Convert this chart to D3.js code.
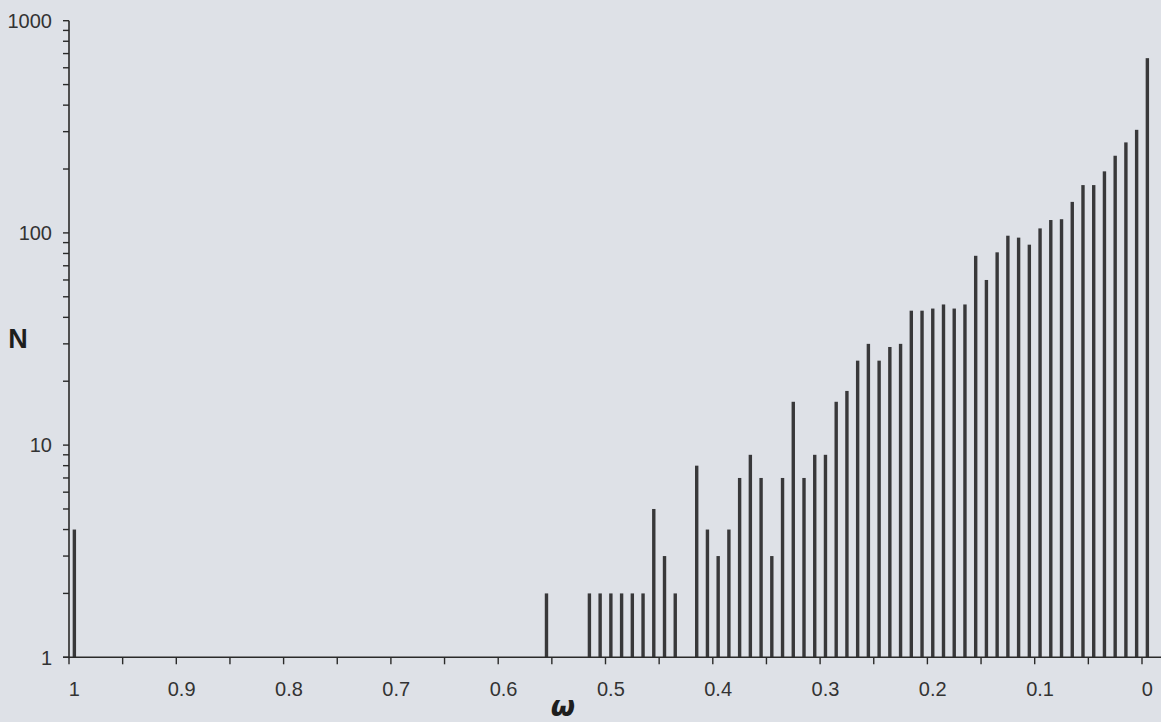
<!DOCTYPE html>
<html>
<head>
<meta charset="utf-8">
<script src="https://cdn.jsdelivr.net/npm/d3@7"></script>
<style>
  html, body { margin: 0; padding: 0; background: #dee1e7; }
  svg { display: block; }
</style>
</head>
<body>
<svg id="chart" width="1161" height="722"></svg>
<script>
// ω bins (reversed axis, 1 → 0) and counts N
const omega = [1.00, 0.56, 0.52, 0.51, 0.50, 0.49, 0.48, 0.47, 0.46, 0.45, 0.44,
  0.42, 0.41, 0.40, 0.39, 0.38, 0.37, 0.36, 0.35, 0.34, 0.33, 0.32, 0.31, 0.30,
  0.29, 0.28, 0.27, 0.26, 0.25, 0.24, 0.23, 0.22, 0.21, 0.20, 0.19, 0.18, 0.17,
  0.16, 0.15, 0.14, 0.13, 0.12, 0.11, 0.10, 0.09, 0.08, 0.07, 0.06, 0.05, 0.04,
  0.03, 0.02, 0.01, 0.00];
const counts = [4, 2, 2, 2, 2, 2, 2, 2, 5, 3, 2,
  8, 4, 3, 4, 7, 9, 7, 3, 7, 16, 7, 9, 9,
  16, 18, 25, 30, 25, 29, 30, 43, 43, 44, 46, 44, 46,
  78, 60, 81, 97, 95, 88, 105, 115, 116, 140, 168, 168, 195,
  231, 267, 306, 666];
const xTickValues = [1, 0.95, 0.9, 0.85, 0.8, 0.75, 0.7, 0.65, 0.6, 0.55, 0.5, 0.45,
  0.4, 0.35, 0.3, 0.25, 0.2, 0.15, 0.1, 0.05, 0];
const xLabelValues = [1, 0.9, 0.8, 0.7, 0.6, 0.5, 0.4, 0.3, 0.2, 0.1, 0];
const yLabelValues = [1, 10, 100, 1000];

const svg = d3.select("#chart");
const x = d3.scaleLinear().domain([1, 0]).range([69, 1142]);
const y = d3.scaleLog().domain([1, 1000]).range([657.3, 20.7]);
const halfBin = 0.005;               // bars & labels sit half a bin to the right of ticks
const xb = v => x(v - halfBin);
const ink = "#2a2a2a";
const font = "'Liberation Sans', Arial, sans-serif";

// bars
svg.append("g").selectAll("rect")
  .data(omega.map((w, i) => ({w, n: counts[i]})))
  .join("rect")
  .attr("x", d => xb(d.w) - 1.7)
  .attr("width", 3.4)
  .attr("y", d => y(d.n))
  .attr("height", d => y(1) - y(d.n))
  .attr("fill", "#38383a");

// y axis
const yMinor = [];
for (let dec = 1; dec < 1000; dec *= 10) for (let m = 1; m < 10; m++) yMinor.push(dec * m);
yMinor.push(1000);
const gy = svg.append("g");
gy.append("line").attr("x1", x(1)).attr("x2", x(1)).attr("y1", y(1000)).attr("y2", y(1) + 1)
  .attr("stroke", ink).attr("stroke-width", 1.6);
gy.selectAll("line.t").data(yMinor).join("line").attr("class", "t")
  .attr("x1", x(1) - 6).attr("x2", x(1)).attr("y1", d => y(d)).attr("y2", d => y(d))
  .attr("stroke", ink).attr("stroke-width", 1.4);
gy.selectAll("text").data(yLabelValues).join("text")
  .attr("x", 52).attr("y", d => y(d)).attr("dy", "0.36em")
  .attr("text-anchor", "end").attr("font-family", font).attr("font-size", 20)
  .attr("fill", "#333").text(d => d);

// x axis
const gx = svg.append("g");
gx.append("line").attr("x1", x(1) - 6).attr("x2", 1161).attr("y1", y(1)).attr("y2", y(1))
  .attr("stroke", ink).attr("stroke-width", 1.6);
gx.selectAll("line.t").data(xTickValues).join("line").attr("class", "t")
  .attr("x1", d => x(d)).attr("x2", d => x(d)).attr("y1", y(1)).attr("y2", y(1) + 7)
  .attr("stroke", ink).attr("stroke-width", 1.4);
gx.selectAll("text").data(xLabelValues).join("text")
  .attr("x", d => xb(d)).attr("y", 696)
  .attr("text-anchor", "middle").attr("font-family", font).attr("font-size", 20)
  .attr("fill", "#333").text(d => d3.format("~g")(d));

// axis titles
svg.append("text").attr("x", 18).attr("y", 348).attr("text-anchor", "middle")
  .attr("font-family", font).attr("font-size", 27).attr("font-weight", "bold")
  .attr("fill", "#1e1e1e").text("N");
svg.append("text").attr("x", 563).attr("y", 716).attr("text-anchor", "middle")
  .attr("font-family", "'DejaVu Sans', sans-serif").attr("font-size", 28).attr("font-weight", "bold")
  .attr("font-style", "italic").attr("fill", "#1e1e1e").text("ω");
</script>
</body>
</html>
